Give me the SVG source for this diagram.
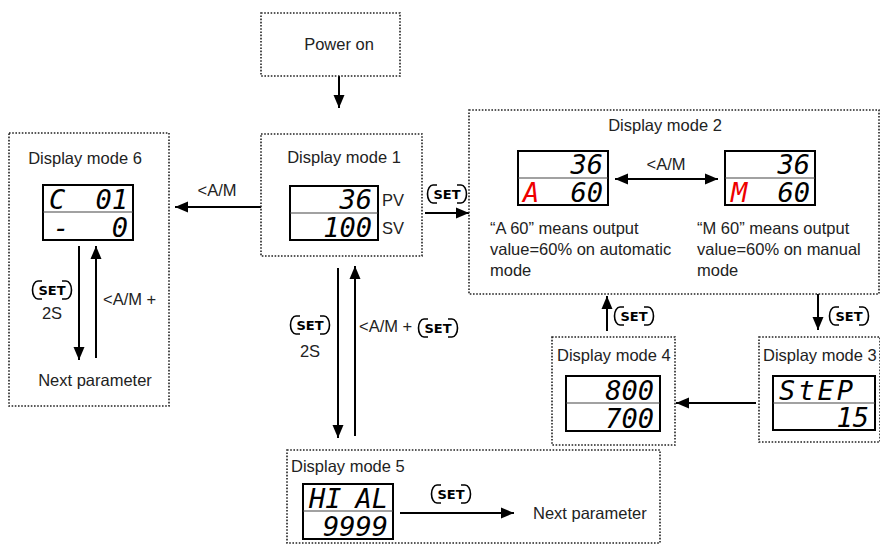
<svg xmlns="http://www.w3.org/2000/svg" width="880" height="544" viewBox="0 0 880 544">
  <style>
    .box { fill: none; stroke: #222; stroke-width: 1.6; stroke-dasharray: 1.6 1.6; }
    .lcd { fill: #fff; stroke: #000; stroke-width: 2; }
    .div { stroke: #444; stroke-width: 1.2; }
    .lbl { font-family: "Liberation Sans", Arial, sans-serif; font-size: 16.5px; fill: #222; }
    .seg { font-family: "DejaVu Sans Mono", "Liberation Mono", monospace; font-style: italic; font-size: 27px; fill: #000; }
    .red { fill: #e00; }
    .btn { fill: none; stroke: #000; stroke-width: 1.6; }
    .btxt { font-family: "DejaVu Sans", "Liberation Sans", sans-serif; font-weight: bold; font-size: 13px; fill: #000; text-anchor: middle; }
    .ln { stroke: #000; stroke-width: 2; fill: none; }
  </style>
  <defs>
    <marker id="ah" markerUnits="userSpaceOnUse" markerWidth="14" markerHeight="14" viewBox="0 0 14 14" refX="13" refY="7" orient="auto-start-reverse">
      <path d="M0,1.5 L13,7 L0,12.5 Z" fill="#000"/>
    </marker>
    <!-- key frame for the SET button, centred on the origin -->
    <path id="key" d="M-10,-9 H-14 A5.5 9 0 0 0 -14,9 H-10 M10,-9 H14 A5.5 9 0 0 1 14,9 H10"/>
  </defs>

  <!-- connectors -->
  <g id="connectors">
    <line class="ln" x1="339" y1="76" x2="339" y2="108" marker-end="url(#ah)"/>
    <line class="ln" x1="261" y1="207" x2="175" y2="207" marker-end="url(#ah)"/>
    <text class="lbl" x="217" y="196" text-anchor="middle">&lt;A/M</text>

    <line class="ln" x1="425" y1="213" x2="469" y2="213" marker-end="url(#ah)"/>
    <use href="#key" class="btn" x="447" y="194"/>
    <text class="btxt" x="447" y="198.5">SET</text>

    <line class="ln" x1="79" y1="246" x2="79" y2="360" marker-end="url(#ah)"/>
    <line class="ln" x1="96" y1="358" x2="96" y2="246" marker-end="url(#ah)"/>
    <use href="#key" class="btn" x="52" y="290"/>
    <text class="btxt" x="52" y="294.5">SET</text>
    <text class="lbl" x="52" y="319" text-anchor="middle">2S</text>
    <text class="lbl" x="103" y="305">&lt;A/M +</text>

    <line class="ln" x1="338" y1="268" x2="338" y2="438" marker-end="url(#ah)"/>
    <line class="ln" x1="355" y1="436" x2="355" y2="266" marker-end="url(#ah)"/>
    <use href="#key" class="btn" x="310" y="325"/>
    <text class="btxt" x="310" y="329.5">SET</text>
    <text class="lbl" x="310" y="357" text-anchor="middle">2S</text>
    <text class="lbl" x="359" y="332">&lt;A/M +</text>
    <use href="#key" class="btn" x="438" y="328"/>
    <text class="btxt" x="438" y="332.5">SET</text>

    <line class="ln" x1="818" y1="294" x2="818" y2="330" marker-end="url(#ah)"/>
    <use href="#key" class="btn" x="849" y="316"/>
    <text class="btxt" x="849" y="320.5">SET</text>

    <line class="ln" x1="756" y1="403" x2="676" y2="403" marker-end="url(#ah)"/>

    <line class="ln" x1="607" y1="331" x2="607" y2="296" marker-end="url(#ah)"/>
    <use href="#key" class="btn" x="634" y="316"/>
    <text class="btxt" x="634" y="320.5">SET</text>

    <line class="ln" x1="400" y1="513" x2="514" y2="513" marker-end="url(#ah)"/>
    <use href="#key" class="btn" x="451" y="494"/>
    <text class="btxt" x="451" y="498.5">SET</text>
  </g>

  <!-- Power on -->
  <g id="power-on">
    <rect class="box" x="261" y="13" width="139" height="63"/>
    <text class="lbl" x="339" y="50" text-anchor="middle">Power on</text>
  </g>

  <!-- Display mode 1 -->
  <g id="mode1">
    <rect class="box" x="261" y="134" width="161" height="122"/>
    <text class="lbl" x="344" y="163" text-anchor="middle">Display mode 1</text>
    <rect class="lcd" x="290" y="186" width="88" height="54"/>
    <line class="div" x1="290" y1="213" x2="378" y2="213"/>
    <text class="seg" x="372" y="209" text-anchor="end">36</text>
    <text class="seg" x="372" y="237" text-anchor="end">100</text>
    <text class="lbl" x="382" y="206">PV</text>
    <text class="lbl" x="382" y="234">SV</text>
  </g>

  <!-- Display mode 6 -->
  <g id="mode6">
    <rect class="box" x="9" y="133" width="160" height="273"/>
    <text class="lbl" x="85" y="164" text-anchor="middle">Display mode 6</text>
    <rect class="lcd" x="43" y="185" width="90" height="55"/>
    <line class="div" x1="43" y1="212" x2="133" y2="212"/>
    <text class="seg" x="49" y="209">C</text>
    <text class="seg" x="128" y="209" text-anchor="end">01</text>
    <text class="seg" x="53" y="237">-</text>
    <text class="seg" x="128" y="237" text-anchor="end">0</text>
    <text class="lbl" x="95" y="386" text-anchor="middle">Next parameter</text>
  </g>

  <!-- Display mode 2 -->
  <g id="mode2">
    <rect class="box" x="469" y="110" width="410" height="184"/>
    <text class="lbl" x="665" y="131" text-anchor="middle">Display mode 2</text>
    <rect class="lcd" x="518" y="151" width="90" height="54"/>
    <line class="div" x1="518" y1="178" x2="608" y2="178"/>
    <text class="seg" x="603" y="174" text-anchor="end">36</text>
    <text class="seg red" x="523" y="202">A</text>
    <text class="seg" x="603" y="202" text-anchor="end">60</text>

    <rect class="lcd" x="725" y="151" width="90" height="54"/>
    <line class="div" x1="725" y1="178" x2="815" y2="178"/>
    <text class="seg" x="810" y="174" text-anchor="end">36</text>
    <text class="seg red" x="731" y="202">M</text>
    <text class="seg" x="810" y="202" text-anchor="end">60</text>

    <line class="ln" x1="615" y1="179" x2="718" y2="179" marker-start="url(#ah)" marker-end="url(#ah)"/>
    <text class="lbl" x="666" y="170" text-anchor="middle">&lt;A/M</text>

    <text class="lbl" x="490" y="234">“A 60” means output</text>
    <text class="lbl" x="490" y="255">value=60% on automatic</text>
    <text class="lbl" x="490" y="276">mode</text>
    <text class="lbl" x="697" y="234">“M 60” means output</text>
    <text class="lbl" x="697" y="255">value=60% on manual</text>
    <text class="lbl" x="697" y="276">mode</text>
  </g>

  <!-- Display mode 3 -->
  <g id="mode3">
    <rect class="box" x="759" y="337" width="121" height="105"/>
    <text class="lbl" x="763" y="361">Display mode 3</text>
    <rect class="lcd" x="773" y="376" width="102" height="54"/>
    <line class="div" x1="773" y1="403" x2="875" y2="403"/>
    <text class="seg" x="779" y="400" letter-spacing="3">StEP</text>
    <text class="seg" x="869" y="427" text-anchor="end">15</text>
  </g>

  <!-- Display mode 4 -->
  <g id="mode4">
    <rect class="box" x="552" y="337" width="123" height="108"/>
    <text class="lbl" x="557" y="361">Display mode 4</text>
    <rect class="lcd" x="566" y="376" width="94" height="55"/>
    <line class="div" x1="566" y1="403" x2="660" y2="403"/>
    <text class="seg" x="654" y="400" text-anchor="end">800</text>
    <text class="seg" x="654" y="428" text-anchor="end">700</text>
  </g>

  <!-- Display mode 5 -->
  <g id="mode5">
    <rect class="box" x="287" y="450" width="373" height="93"/>
    <text class="lbl" x="291" y="472">Display mode 5</text>
    <rect class="lcd" x="303" y="484" width="90" height="55"/>
    <line class="div" x1="303" y1="511" x2="393" y2="511"/>
    <text class="seg" x="309" y="508">HI</text>
    <text class="seg" x="388" y="508" text-anchor="end">AL</text>
    <text class="seg" x="388" y="536" text-anchor="end">9999</text>
    <text class="lbl" x="533" y="519">Next parameter</text>
  </g>
</svg>
